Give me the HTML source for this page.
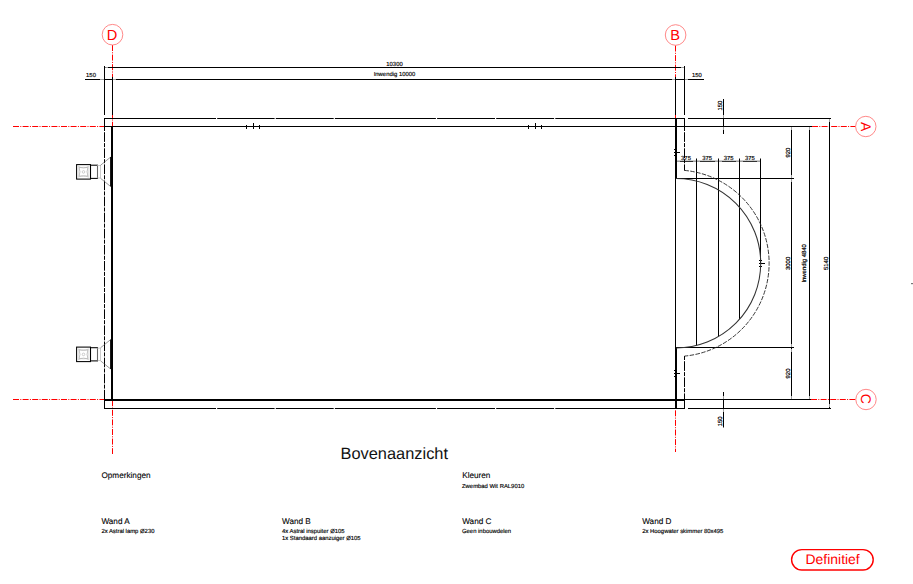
<!DOCTYPE html>
<html><head><meta charset="utf-8">
<style>
html,body{margin:0;padding:0;background:#fff;width:913px;height:584px;overflow:hidden}
svg{display:block;font-family:"Liberation Sans",sans-serif;text-rendering:geometricPrecision}
</style></head><body>
<svg width="913" height="584" viewBox="0 0 913 584">
<!-- red grid lines -->
<g stroke="#ff0000" stroke-width="1" fill="none" stroke-dasharray="6 1.3 1 1.3">
  <line x1="112.5" y1="45" x2="112.5" y2="454"/>
  <line x1="675.5" y1="45.5" x2="675.5" y2="452"/>
  <line x1="13" y1="126.5" x2="104" y2="126.5"/>
  <line x1="13" y1="399.5" x2="104" y2="399.5"/>
  <line x1="812" y1="126.5" x2="855.5" y2="126.5"/>
  <line x1="811" y1="399.5" x2="856" y2="399.5"/>
</g>
<g stroke="#ff7a7a" stroke-width="0.9" fill="none">
  <circle cx="112.5" cy="34.7" r="10.3"/>
  <circle cx="675.6" cy="35" r="10.3"/>
  <circle cx="865.8" cy="126.5" r="10.2"/>
  <circle cx="866" cy="399.5" r="10.2"/>
</g>
<g fill="#ff0000" font-size="14" text-anchor="middle">
  <text x="111.9" y="39.9" font-size="14.6">D</text>
  <text x="675.1" y="40.1" font-size="14.6">B</text>
  <text transform="translate(860.6 126.6) rotate(90)" x="0" y="0">A</text>
  <text transform="translate(861.2 398.8) rotate(90)" x="0" y="0">C</text>
</g>

<!-- black lines -->
<g stroke="#000" stroke-width="1" fill="none">
  <!-- top dims -->
  <line x1="104.5" y1="67.5" x2="684.5" y2="67.5"/>
  <line x1="85" y1="79.5" x2="704" y2="79.5"/>
  <line x1="104.5" y1="66" x2="104.5" y2="115"/>
  <line x1="112.5" y1="77" x2="112.5" y2="115"/>
  <line x1="675.5" y1="77" x2="675.5" y2="115"/>
  <line x1="684.5" y1="66" x2="684.5" y2="115"/>
  <!-- pool outer top with gaps -->
  <line x1="104" y1="118.5" x2="685" y2="118.5" stroke-dasharray="112 1.2 57.4 1.2 57.9 1.2 101 1.2 57.9 1.2 57.9 1.2 500"/>
  <line x1="688" y1="118.5" x2="831" y2="118.5"/>
  <line x1="104" y1="126.5" x2="812" y2="126.5"/>
  <!-- left outer -->
  <line x1="104.5" y1="118" x2="104.5" y2="127"/>
  <line x1="104.5" y1="127" x2="104.5" y2="400" stroke-dasharray="4 1.2 9.7 1.2"/>
  <line x1="104.5" y1="400" x2="104.5" y2="409"/>
  <!-- outer bottom -->
  <line x1="104" y1="408.5" x2="685" y2="408.5" stroke-dasharray="112 1.2 57.4 1.2 57.9 1.2 101 1.2 57.9 1.2 57.9 1.2 500"/>
  <line x1="688" y1="408.5" x2="831" y2="408.5"/>
  <line x1="685" y1="399.5" x2="811" y2="399.5"/>
  <!-- right outer -->
  <line x1="684.5" y1="118" x2="684.5" y2="127"/>
  <line x1="684.5" y1="127" x2="684.5" y2="170.4" stroke-dasharray="4 1.2 9.7 1.2"/>
  <line x1="684.5" y1="356" x2="684.5" y2="400" stroke-dasharray="4 1.2 9.7 1.2"/>
  <line x1="684.5" y1="400" x2="684.5" y2="409"/>
  <line x1="675.5" y1="178" x2="675.5" y2="348"/>
  <!-- stairs -->
  <line x1="676" y1="178.5" x2="794" y2="178.5"/>
  <line x1="676" y1="347.5" x2="794" y2="347.5"/>
  <line x1="676" y1="161.3" x2="761" y2="161.3"/>
  <line x1="696.5" y1="158.5" x2="696.5" y2="345.5"/>
  <line x1="718.5" y1="158.5" x2="718.5" y2="336.5"/>
  <line x1="739.5" y1="158.5" x2="739.5" y2="319"/>
  <line x1="760.5" y1="158.5" x2="760.5" y2="263"/>
  <!-- right dims -->
  <line x1="791.5" y1="126" x2="791.5" y2="400"/>
  <line x1="809.5" y1="126" x2="809.5" y2="400"/>
  <line x1="829.5" y1="118" x2="829.5" y2="409"/>
  <line x1="723.5" y1="99" x2="723.5" y2="134"/>
  <line x1="723.5" y1="392" x2="723.5" y2="427.5"/>
  <!-- ticks top inner -->
  <line x1="246.5" y1="125" x2="246.5" y2="129"/>
  <line x1="253.5" y1="123" x2="253.5" y2="129"/>
  <line x1="259.5" y1="125" x2="259.5" y2="129"/>
  <line x1="528.5" y1="125" x2="528.5" y2="129"/>
  <line x1="535.5" y1="123" x2="535.5" y2="129"/>
  <line x1="541.5" y1="125" x2="541.5" y2="129"/>
  <!-- break marks right wall -->
  <line x1="674" y1="149.5" x2="677" y2="149.5"/>
  <line x1="674" y1="152.5" x2="680" y2="152.5"/>
  <line x1="674" y1="155.5" x2="677" y2="155.5"/>
  <line x1="674" y1="370.5" x2="677" y2="370.5"/>
  <line x1="674" y1="373.5" x2="680" y2="373.5"/>
  <line x1="674" y1="376.5" x2="677" y2="376.5"/>
  <line x1="759" y1="260.5" x2="762" y2="260.5"/>
  <line x1="759" y1="263.5" x2="765" y2="263.5"/>
  <line x1="759" y1="266.5" x2="762" y2="266.5"/>
</g>
<!-- arrowheads -->
<rect x="105.2" y="67" width="2.8" height="1" fill="#a0a0a0"/>
<rect x="681" y="67" width="3.0" height="1" fill="#a0a0a0"/>
<rect x="100" y="79" width="4.0" height="1" fill="#a0a0a0"/>
<rect x="113" y="79" width="3.0" height="1" fill="#a0a0a0"/>
<rect x="672" y="79" width="3.0" height="1" fill="#a0a0a0"/>
<rect x="685" y="79" width="3.0" height="1" fill="#a0a0a0"/>
<rect x="677" y="161" width="3.0" height="1" fill="#a0a0a0"/>
<rect x="693" y="161" width="3.0" height="1" fill="#a0a0a0"/>
<rect x="697" y="161" width="3.0" height="1" fill="#a0a0a0"/>
<rect x="715" y="161" width="3.0" height="1" fill="#a0a0a0"/>
<rect x="719" y="161" width="3.0" height="1" fill="#a0a0a0"/>
<rect x="736" y="161" width="3.0" height="1" fill="#a0a0a0"/>
<rect x="740" y="161" width="3.0" height="1" fill="#a0a0a0"/>
<rect x="757" y="161" width="3.0" height="1" fill="#a0a0a0"/>
<rect x="791" y="127" width="1" height="3" fill="#a0a0a0"/>
<rect x="791" y="175" width="1" height="3" fill="#a0a0a0"/>
<rect x="791" y="179" width="1" height="3" fill="#a0a0a0"/>
<rect x="791" y="344" width="1" height="3" fill="#a0a0a0"/>
<rect x="791" y="349" width="1" height="3" fill="#a0a0a0"/>
<rect x="791" y="396" width="1" height="3" fill="#a0a0a0"/>
<rect x="809" y="127" width="1" height="3" fill="#a0a0a0"/>
<rect x="809" y="396" width="1" height="3" fill="#a0a0a0"/>
<rect x="829" y="119" width="1" height="3" fill="#a0a0a0"/>
<rect x="829" y="404" width="1" height="3" fill="#a0a0a0"/>
<rect x="723" y="115" width="1" height="3" fill="#a0a0a0"/>
<rect x="723" y="127" width="1" height="3" fill="#a0a0a0"/>
<rect x="723" y="396" width="1" height="3" fill="#a0a0a0"/>
<rect x="723" y="409" width="1" height="3" fill="#a0a0a0"/>
<!-- thick walls -->
<g stroke="#000" stroke-width="2" fill="none">
  <line x1="112" y1="126" x2="112" y2="401"/>
  <line x1="104" y1="400" x2="685" y2="400"/>
  <line x1="676" y1="118" x2="676" y2="178.5"/>
  <line x1="676" y1="347" x2="676" y2="409"/>
</g>
<!-- arcs -->
<path d="M676 178.5 A84.75 84.75 0 0 1 676 348" stroke="#333" stroke-width="1.05" fill="none"/>
<path d="M684.5 170.4 A93.25 93.25 0 0 1 684.5 356.1" stroke="#222" stroke-width="0.9" fill="none" stroke-dasharray="4.5 1.4"/>
<line x1="684.5" y1="170.4" x2="684.5" y2="167" stroke="#000" stroke-width="0.8"/>

<!-- lamps -->
<g id="lamp" transform="translate(0 171.8)">
  <rect x="76.6" y="-7.2" width="13.9" height="14.5" fill="none" stroke="#000" stroke-width="1.05"/>
  <rect x="90.5" y="-6.6" width="7" height="13.2" fill="none" stroke="#000" stroke-width="1.05"/>
  <g stroke="#999" stroke-width="0.45" fill="none">
    <circle cx="83.5" cy="0.1" r="1.3"/>
    <path d="M78.6 -5.4 Q83.5 -2.2 88.4 -5.4 Q85.4 0 88.4 5.4 Q83.5 2.2 78.6 5.4 Q81.6 0 78.6 -5.4Z"/>
    <path d="M79.2 -4.2 Q83.5 -4.8 87.8 -4.2 Q88.3 0 87.8 4.2 Q83.5 4.8 79.2 4.2 Q78.7 0 79.2 -4.2Z"/>
  </g>
  <rect x="97.6" y="-6.2" width="2.9" height="12.4" fill="none" stroke="#aaa" stroke-width="0.6"/>
  <g stroke="#555" stroke-width="0.6" fill="none">
    <line x1="100.5" y1="-6.5" x2="110.5" y2="-14.6"/>
    <line x1="100.5" y1="6.5" x2="110.5" y2="14.6"/>
  </g>
  <line x1="110.9" y1="-14.8" x2="110.9" y2="14.8" stroke="#000" stroke-width="1.6"/>
</g>
<use href="#lamp" transform="translate(0 182.5)"/>

<!-- dimension texts -->
<g fill="#000" stroke="#000" stroke-width="0.15" font-size="5.9">
  <text x="394.5" y="66" text-anchor="middle">10300</text>
  <text x="394.5" y="75.9" text-anchor="middle">Inwendig 10000</text>
  <text x="91" y="77" text-anchor="middle">150</text>
  <text x="696.8" y="77.3" text-anchor="middle">150</text>
  <text x="686" y="160.2" text-anchor="middle">375</text>
  <text x="707.2" y="160.2" text-anchor="middle">375</text>
  <text x="728.6" y="160.2" text-anchor="middle">375</text>
  <text x="749.9" y="160.2" text-anchor="middle">375</text>
  <text transform="translate(722.2 105.6) rotate(-90)" text-anchor="middle" stroke-width="0.2">150</text>
  <text transform="translate(722.2 421.3) rotate(-90)" text-anchor="middle" stroke-width="0.2">150</text>
  <text transform="translate(790 152.7) rotate(-90)" text-anchor="middle" stroke-width="0.2">920</text>
  <text transform="translate(790 263.4) rotate(-90)" text-anchor="middle" stroke-width="0.2">3000</text>
  <text transform="translate(790 373.5) rotate(-90)" text-anchor="middle" stroke-width="0.2">920</text>
  <text transform="translate(806.4 263.4) rotate(-90)" text-anchor="middle" stroke-width="0.2">Inwendig 4840</text>
  <text transform="translate(828 263.4) rotate(-90)" text-anchor="middle" stroke-width="0.2">5140</text>
</g>

<!-- bottom texts -->
<text x="340.5" y="459.2" font-size="16.4" fill="#111">Bovenaanzicht</text>
<g fill="#000" stroke="#000" stroke-width="0.1" font-size="8.2">
  <text x="101.4" y="478.2">Opmerkingen</text>
  <text x="462.2" y="478">Kleuren</text>
  <text x="101.4" y="524">Wand A</text>
  <text x="282" y="524">Wand B</text>
  <text x="462.2" y="524">Wand C</text>
  <text x="642.2" y="524">Wand D</text>
</g>
<g fill="#000" stroke="#000" stroke-width="0.15" font-size="5.9">
  <text x="462" y="488">Zwembad Wit RAL9010</text>
  <text x="101.4" y="533">2x Astral lamp Ø230</text>
  <text x="282" y="533">4x Astral inspuiter Ø105</text>
  <text x="282" y="540">1x Standaard aanzuiger Ø105</text>
  <text x="462" y="533">Geen inbouwdelen</text>
  <text x="642.2" y="533">2x Hoogwater skimmer 80x495</text>
</g>
<rect x="791.6" y="549.6" width="81.6" height="20.4" rx="10.2" fill="none" stroke="#ff0000" stroke-width="1.4"/>
<text x="805.5" y="563.5" font-size="13.95" fill="#ff0000">Definitief</text>
<rect x="911" y="283" width="2" height="1.2" fill="#777"/>
</svg>
</body></html>
